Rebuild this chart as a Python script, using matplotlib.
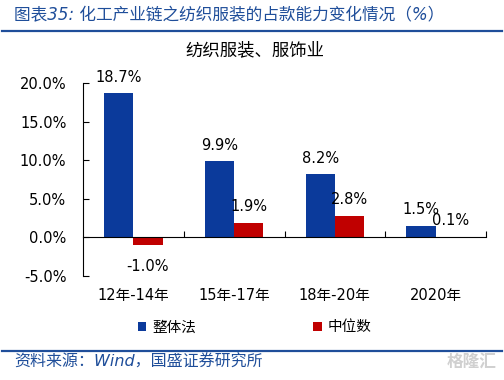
import matplotlib
matplotlib.use('Agg')
import matplotlib.pyplot as plt
import numpy as np

plt.rcParams['font.family'] = ['DejaVu Sans', 'Noto Sans CJK SC']

categories = ['12年-14年', '15年-17年', '18年-20年', '2020年']
overall = [18.7, 9.9, 8.2, 1.5]
median = [-1.0, 1.9, 2.8, 0.1]
series_names = ['整体法', '中位数']
yticks = [-5, 0, 5, 10, 15, 20]

blue = '#0B3A9B'
red = '#C00000'
navy = '#1F4E9A'

fig = plt.figure(figsize=(5.04, 3.80), dpi=100)
ax = fig.add_axes([83 / 504, 1 - 276 / 380, 403 / 504, 193 / 380])

x = np.arange(len(categories))
w = 0.29
b1 = ax.bar(x - w / 2, overall, w, color=blue, label=series_names[0])
b2 = ax.bar(x + w / 2, median, w, color=red, label=series_names[1])

for bars, vals in ((b1, overall), (b2, median)):
    for rect, v in zip(bars, vals):
        cx = rect.get_x() + rect.get_width() / 2
        if v >= 0:
            ax.annotate(f'{v:.1f}%', (cx, v), xytext=(0, 6), textcoords='offset points',
                        ha='center', va='bottom', fontsize=10.5)
        else:
            ax.annotate(f'{v:.1f}%', (cx, v), xytext=(0, -10), textcoords='offset points',
                        ha='center', va='top', fontsize=10.5)

ax.set_xlim(-0.5, len(categories) - 0.5)
ax.set_ylim(-5, 20)
ax.set_yticks(yticks)
ax.set_yticklabels([f'{t:.1f}%' for t in yticks], fontsize=10.5)
ax.tick_params(axis='y', direction='in', length=4, pad=12, width=0.8)

ax.spines['top'].set_visible(False)
ax.spines['right'].set_visible(False)
ax.spines['bottom'].set_position(('data', 0))
ax.spines['left'].set_linewidth(0.8)
ax.spines['bottom'].set_linewidth(0.8)
ax.set_xticks(np.arange(len(categories)) + 0.5)
ax.set_xticklabels([])
ax.tick_params(axis='x', direction='in', length=4, width=0.8)

for i, c in enumerate(categories):
    ax.text(i, -0.1, c, transform=ax.get_xaxis_transform(), ha='center', va='center',
            fontsize=10.5)

fig.legend(handles=[b1, b2], loc='center', bbox_to_anchor=(0.505, 1 - 327 / 380),
           ncol=2, frameon=False, fontsize=10.5, handlelength=0.6, handleheight=0.6,
           handletextpad=0.4, columnspacing=8.0)

fig.text(255 / 504, 1 - 50 / 380, '纺织服装、服饰业', ha='center', va='center', fontsize=12.5)

fig.text(14 / 504, 1 - 15 / 380, '图表35: 化工产业链之纺织服装的占款能力变化情况（%）',
         ha='left', va='center', fontsize=12, color=navy, style='italic')
fig.text(14 / 504, 1 - 362 / 380, '资料来源：Wind，国盛证券研究所',
         ha='left', va='center', fontsize=11.5, color=navy, style='italic')
fig.text(497 / 504, 1 - 362 / 380, '格隆汇', ha='right', va='center', fontsize=12,
         color='#D0D0D0', fontweight='bold')

fig.add_artist(plt.Line2D([2 / 504, 502 / 504], [1 - 31 / 380] * 2, color=navy, lw=1.6))
fig.add_artist(plt.Line2D([2 / 504, 502 / 504], [1 - 351 / 380] * 2, color=navy, lw=1.6))

fig.savefig('out.png', dpi=100)
